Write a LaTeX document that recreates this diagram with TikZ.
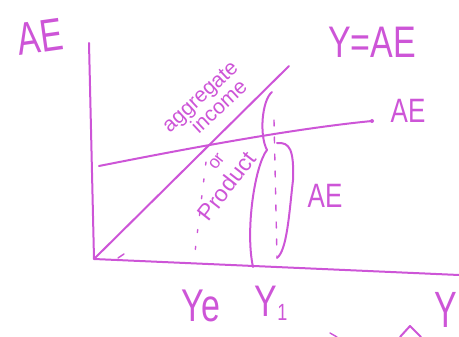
\documentclass[tikz,border=0pt]{standalone}
\usepackage{fontspec}
\setmainfont{Liberation Sans}
\definecolor{ink}{RGB}{205,85,215}
\begin{document}
\begin{tikzpicture}[x=1pt,y=-1pt,line cap=round,line join=round,
  pen/.style={draw=ink,line width=2pt},
  thin pen/.style={draw=ink,line width=1.4pt},
  lbl/.style={text=ink,inner sep=0pt},
  big/.style={lbl,font=\fontsize{34}{34}\selectfont},
  mid/.style={lbl,font=\fontsize{26}{26}\selectfont},
  note/.style={lbl,align=center}]
\useasboundingbox (0,0) rectangle (459,337);
% axes
\coordinate (ytop) at (89,43);
\coordinate (O) at (94,259);
\coordinate (xend) at (459,275);
\draw[pen] (ytop) -- (O) -- (xend);
% 45 degree line
\coordinate (d45) at (289,66);
\draw[pen] (O) -- (d45);
% AE line
\coordinate (aeS) at (99,166);
\coordinate (aeE) at (372,121);
\draw[pen] (aeS) .. controls (180,150) and (290,129) .. (aeE);
\fill[ink] (aeE) circle (2pt);
% dashed Y1 line and dotted Ye line
\coordinate (y1t) at (274,120);
\coordinate (y1b) at (277,258);
\draw[thin pen,dash pattern=on 6pt off 11pt] (y1t) -- (y1b);
\coordinate (yet) at (206,162);
\coordinate (yeb) at (195,252);
\draw[thin pen,dash pattern=on 3pt off 14pt] (yet) -- (yeb);
% left brace (Y1 height)
\coordinate (lb1) at (272,92);
\coordinate (lb2) at (253,267);
\draw[pen] (lb1) .. controls (262,100) and (259,135) .. (267,150)
  .. controls (255,165) and (245,230) .. (lb2);
% right brace (AE height)
\coordinate (rb1) at (277,143);
\coordinate (rb2) at (277,258);
\draw[pen] (rb1) .. controls (290,142) and (294,150) .. (293,180)
  .. controls (289,215) and (287,250) .. (rb2);
% tiny tick near origin
\coordinate (tk1) at (118,258);
\coordinate (tk2) at (124,254);
\draw[thin pen] (tk1) -- (tk2);
% partial strokes at bottom
\coordinate (b1) at (330,333);
\coordinate (b2) at (337,337);
\draw[thin pen] (b1) -- (b2);
\coordinate (t1) at (400,337);
\coordinate (t2) at (410,326);
\coordinate (t3) at (421,337);
\draw[pen] (t1) -- (t2) -- (t3);
% labels
\node[big,rotate=8] (lAE) at (40,37) {\scalebox{1}[1.35]{AE}};
\node[big] (lYAE) at (372,42) {\scalebox{1}[1.3]{Y=AE}};
\node[mid] (lAE2) at (408,111) {\scalebox{1}[1.3]{AE}};
\node[mid] (lAE3) at (325,196) {\scalebox{1}[1.3]{AE}};
\node[note,rotate=43,font=\fontsize{21}{19}\selectfont] (lagg) at (207,104)
  {aggregate\\\hspace*{14pt}income};
\node[note,rotate=52,font=\fontsize{23}{26}\selectfont] (lprod) at (219,180)
  {\hspace*{26pt}{\fontsize{18}{18}\selectfont or}\\Product};
\node[big] (lYe) at (201,306) {\scalebox{1}[1.35]{Ye}};
\node[big] (lY1) at (271,303) {\scalebox{1}[1.3]{Y\raisebox{-3pt}{\fontsize{18}{18}\selectfont 1}}};
\node[big] (lY) at (446,310) {\scalebox{1}[1.5]{Y}};
\end{tikzpicture}
\end{document}
